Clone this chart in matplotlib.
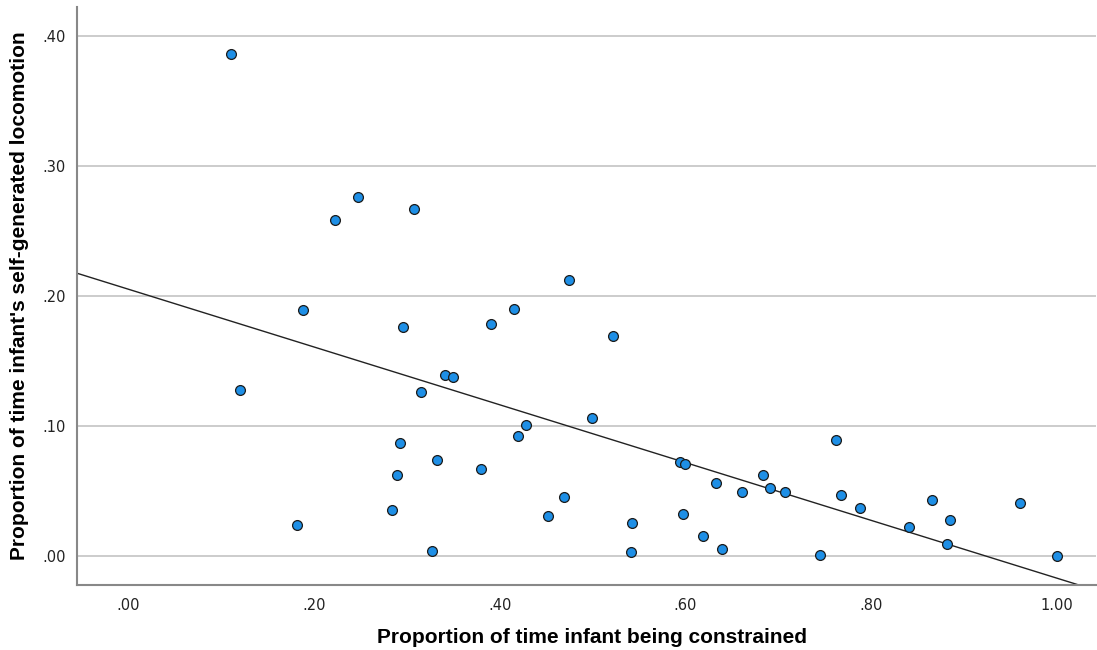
import numpy as np
import matplotlib.pyplot as plt

# proportion of time constrained (x) vs self-generated locomotion (y)
constrained = [0.111, 0.120, 0.182, 0.188, 0.223, 0.248, 0.284, 0.289, 0.293,
               0.296, 0.308, 0.315, 0.327, 0.332, 0.341, 0.350, 0.380, 0.391,
               0.415, 0.420, 0.428, 0.452, 0.469, 0.475, 0.499, 0.522, 0.541,
               0.542, 0.594, 0.597, 0.599, 0.619, 0.633, 0.639, 0.661, 0.683,
               0.691, 0.707, 0.745, 0.762, 0.767, 0.788, 0.841, 0.865, 0.881,
               0.885, 0.960, 1.000]
locomotion = [0.386, 0.128, 0.024, 0.189, 0.258, 0.276, 0.035, 0.062, 0.087,
              0.176, 0.267, 0.126, 0.004, 0.074, 0.139, 0.138, 0.067, 0.178,
              0.190, 0.092, 0.101, 0.031, 0.045, 0.212, 0.106, 0.169, 0.003,
              0.025, 0.072, 0.032, 0.071, 0.015, 0.056, 0.005, 0.049, 0.062,
              0.052, 0.049, 0.001, 0.089, 0.047, 0.037, 0.022, 0.043, 0.009,
              0.028, 0.041, 0.000]

x_ticks = [0.0, 0.2, 0.4, 0.6, 0.8, 1.0]
x_labels = ['.00', '.20', '.40', '.60', '.80', '1.00']
y_ticks = [0.0, 0.1, 0.2, 0.3, 0.4]
y_labels = ['.00', '.10', '.20', '.30', '.40']

x = np.array(constrained)
y = np.array(locomotion)
slope, intercept = np.polyfit(x, y, 1)

fig = plt.figure(figsize=(10.97, 6.5), dpi=100)
ax = fig.add_axes([0.0702, 0.1, 0.929, 0.889])

xlim = (-0.055, 1.042)
ylim = (-0.0223, 0.422)

ax.yaxis.grid(True, color='#c4c4c4', linewidth=1.2)
ax.set_axisbelow(True)

fx = np.array(xlim)
ax.plot(fx, intercept + slope * fx, color='#222222', linewidth=1.0, zorder=2)
ax.scatter(x, y, s=50, color='#1e8fe6', edgecolors='#1a1a1a',
           linewidths=0.9, zorder=3)

ax.set_xlim(*xlim)
ax.set_ylim(*ylim)
ax.set_xticks(x_ticks)
ax.set_xticklabels(x_labels)
ax.set_yticks(y_ticks)
ax.set_yticklabels(y_labels)
ax.tick_params(length=0, labelsize=10.5, labelcolor='#222222')
ax.tick_params(axis='x', pad=9)
ax.tick_params(axis='y', pad=8)

for side in ['top', 'right']:
    ax.spines[side].set_visible(False)
for side in ['left', 'bottom']:
    ax.spines[side].set_color('#888888')
    ax.spines[side].set_linewidth(1.5)

label_font = dict(family='Liberation Sans', fontsize=15, fontweight='bold')
ax.set_xlabel('Proportion of time infant being constrained', labelpad=8, **label_font)
ax.xaxis.set_label_coords(0.505, -0.075)
ax.set_ylabel("Proportion of time infant's self-generated locomotion", **label_font)
ax.yaxis.set_label_coords(-0.047, 0.5)

fig.savefig('out.png', dpi=100)
